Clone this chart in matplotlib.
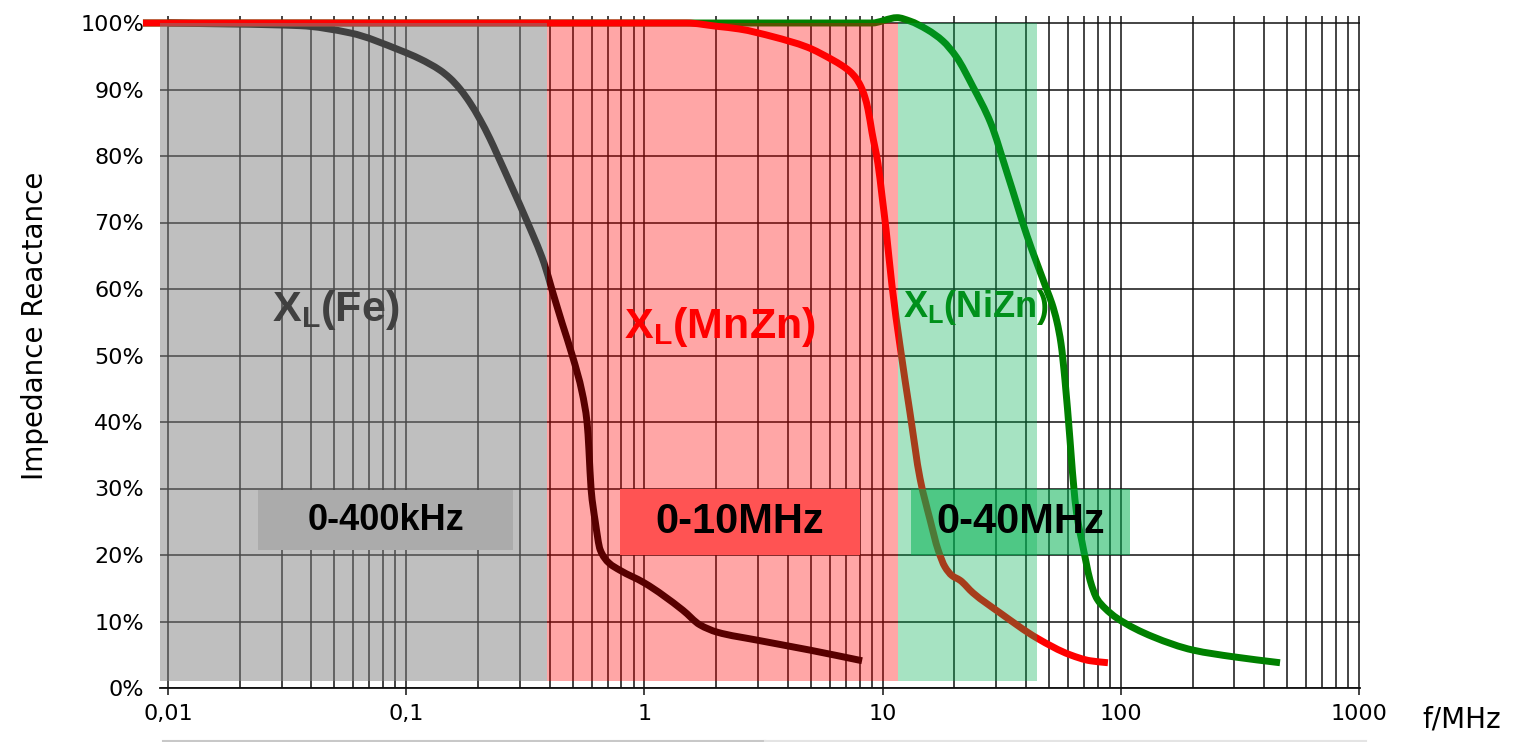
import matplotlib
matplotlib.use("Agg")
import matplotlib.pyplot as plt
from matplotlib.patches import Rectangle, PathPatch
from matplotlib.path import Path
from matplotlib.lines import Line2D
import numpy as np

# ---------------- data ----------------
# X_L(Fe) curve: frequency in MHz, relative reactance
fe_freq = [0.01, 0.0358, 0.0583, 0.0942, 0.1143, 0.1387, 0.1527, 0.168, 0.1853, 0.204,
           0.2247, 0.2405, 0.278, 0.3214, 0.379, 0.41, 0.452, 0.50, 0.548, 0.575,
           0.585, 0.597, 0.622, 0.652, 0.71, 0.79, 1.0, 1.45, 1.71, 2.02, 2.97,
           4.95, 8.2]
fe_val = [1.00, 0.996, 0.985, 0.959, 0.946, 0.929, 0.917, 0.901, 0.880, 0.855,
          0.826, 0.803, 0.753, 0.702, 0.639, 0.598, 0.548, 0.498, 0.444, 0.398,
          0.358, 0.300, 0.250, 0.208, 0.188, 0.177, 0.158, 0.117, 0.095, 0.084,
          0.072, 0.057, 0.041]

# X_L(MnZn) curve
mnzn_freq = [0.00785, 1.5, 2.02, 2.5, 3.5, 4.8, 6.2, 6.753, 7.297, 7.732, 8.115,
             8.436, 8.686, 9.03, 9.565, 9.943, 10.335, 10.95, 11.83, 13.03, 14.36,
             15.82, 17.09, 18.28, 19.56, 21.14, 23.96, 31.1, 44.5, 61.2, 74.3, 88.3]
mnzn_val = [1.00, 1.00, 0.995, 0.991, 0.979, 0.964, 0.944, 0.936, 0.927, 0.917,
            0.904, 0.888, 0.870, 0.835, 0.788, 0.740, 0.690, 0.605, 0.515, 0.414,
            0.315, 0.253, 0.208, 0.182, 0.169, 0.162, 0.143, 0.113, 0.075, 0.050,
            0.041, 0.038]

# X_L(NiZn) curve
nizn_freq = [0.00785, 9.0, 11.5, 13.0, 15.4, 17.9, 20.4, 23.96, 28.4, 33.28, 40.39,
             49.0, 51.4, 54.0, 56.1, 58.3, 61.2, 64.2, 66.1, 68.7, 71.4, 74.3, 79.5,
             85.8, 96.4, 136.5, 201.0, 296.0, 466.0]
nizn_val = [1.00, 1.00, 1.008, 1.003, 0.990, 0.973, 0.949, 0.904, 0.850, 0.775, 0.680,
            0.598, 0.578, 0.550, 0.518, 0.463, 0.373, 0.283, 0.250, 0.220, 0.190,
            0.162, 0.134, 0.120, 0.105, 0.077, 0.057, 0.047, 0.038]

# frequency bands (MHz)
band_start = [None, 0.39, 11.57]   # None = left edge of plot
band_end = [0.39, 11.57, 44.4]
band_low, band_high = 0.01, 1.00

# range boxes
box_labels = ["0-400kHz", "0-10MHz", "0-40MHz"]
box_x0 = [0.0239, 0.790, 13.15]
box_x1 = [0.281, 8.04, 109.3]
box_y0 = [0.207, 0.20, 0.20]
box_y1 = [0.298, 0.30, 0.30]

# curve labels
curve_labels = [r"$\mathbf{X_L(Fe)}$", r"$\mathbf{X_L(MnZn)}$", r"$\mathbf{X_L(NiZn)}$"]
curve_label_x = [0.0273, 0.821, 12.18]
curve_label_y = [0.568, 0.543, 0.572]

x_ticks = [0.01, 0.1, 1, 10, 100, 1000]
x_tick_labels = ["0,01", "0,1", "1", "10", "100", "1000"]
y_ticks = [i / 10 for i in range(11)]
y_tick_labels = [f"{i * 10}%" for i in range(11)]


def smooth_path(freq, val):
    """Shape-preserving cubic (PCHIP) through the points, in log-frequency,
    expressed as Bezier segments so that the line is drawn smooth."""
    u = np.log10(np.asarray(freq, float))
    y = np.asarray(val, float)
    h = np.diff(u)
    delta = np.diff(y) / h
    n = len(u)
    d = np.zeros(n)
    d[0], d[-1] = delta[0], delta[-1]
    for k in range(1, n - 1):
        if delta[k - 1] * delta[k] <= 0:
            d[k] = 0.0
        else:
            w1 = 2 * h[k] + h[k - 1]
            w2 = h[k] + 2 * h[k - 1]
            d[k] = (w1 + w2) / (w1 / delta[k - 1] + w2 / delta[k])
    verts = [(u[0], y[0])]
    codes = [Path.MOVETO]
    for k in range(n - 1):
        verts += [(u[k] + h[k] / 3, y[k] + d[k] * h[k] / 3),
                  (u[k + 1] - h[k] / 3, y[k + 1] - d[k + 1] * h[k] / 3),
                  (u[k + 1], y[k + 1])]
        codes += [Path.CURVE4] * 3
    verts = np.array(verts)
    verts[:, 0] = 10 ** verts[:, 0]
    return Path(verts, codes)


# ---------------- style ----------------
plt.rcParams["font.family"] = ["DejaVu Sans"]
plt.rcParams["mathtext.fontset"] = "custom"
plt.rcParams["mathtext.bf"] = "Liberation Sans:bold"
plt.rcParams["mathtext.rm"] = "Liberation Sans"
plt.rcParams["mathtext.it"] = "Liberation Sans:italic"

W, H = 1520, 742
fig = plt.figure(figsize=(W / 100, H / 100), dpi=100)

dec = 238.2
x_lo = 10 ** (-2 - 8 / dec)
x_hi = 10 ** 3.004
left_px = 160
right_px = 1359 + 0.004 * dec
y_top = 1.01
ax = fig.add_axes([left_px / W, 54 / H, (right_px - left_px) / W, 665 * y_top / H])
ax.set_xscale("log")
ax.set_xlim(x_lo, x_hi)
ax.set_ylim(0, y_top)

grid_col = "#111111"
ax.set_xticks(x_ticks)
ax.set_xticklabels(x_tick_labels, fontsize=16)
ax.xaxis.set_minor_locator(matplotlib.ticker.LogLocator(base=10, subs=np.arange(2, 10)))
ax.xaxis.set_minor_formatter(matplotlib.ticker.NullFormatter())
ax.set_yticks(y_ticks)
ax.set_yticklabels(y_tick_labels, fontsize=16)
ax.tick_params(axis="x", which="major", length=5, width=1.1, color=grid_col, pad=6.5)
ax.tick_params(axis="x", which="minor", length=0)
ax.tick_params(axis="y", length=0, pad=11.5)
ax.grid(True, which="both", axis="x", color=grid_col, lw=1.1, zorder=0.5)
ax.grid(True, which="major", axis="y", color=grid_col, lw=1.1, zorder=0.5)
ax.set_axisbelow(True)
for s in ["top", "right", "left"]:
    ax.spines[s].set_visible(False)
ax.spines["bottom"].set_color(grid_col)
ax.spines["bottom"].set_linewidth(1.3)

# curve labels (below the translucent bands)
label_cols = ["black", "#FF0000", "#008000"]
label_sizes = [31, 31, 26]
for txt, lx, ly, c, fs in zip(curve_labels, curve_label_x, curve_label_y, label_cols, label_sizes):
    ax.text(lx, ly, txt, color=c, fontsize=fs, ha="left", va="center", zorder=1.5)

# curves (smooth)
for fr, vv, col, zo in [(fe_freq, fe_val, "black", 2.0),
                        (nizn_freq, nizn_val, "#008000", 2.1),
                        (mnzn_freq, mnzn_val, "#FF0000", 2.2)]:
    ax.add_patch(PathPatch(smooth_path(fr, vv), fill=False, edgecolor=col, lw=5,
                           capstyle="butt", joinstyle="round", zorder=zo, clip_on=False))

# translucent frequency bands
band_cols = [((128 / 255,) * 3, 0.5), ((1.0, 0.0, 0.0), 0.35), ((0.0, 176 / 255, 80 / 255), 0.35)]
for xs, xe, (c, a) in zip(band_start, band_end, band_cols):
    xs = x_lo if xs is None else xs
    ax.add_patch(Rectangle((xs, band_low), xe - xs, band_high - band_low,
                           facecolor=c, alpha=a, edgecolor="none", zorder=3))

# range boxes
box_cols = [("#ABABAB", 1.0), ("#FF5353", 1.0), ((0.0, 176 / 255, 80 / 255), 0.53)]
box_fs = [26, 30, 30]
for lab, x0, x1, y0, y1, (c, a), fs in zip(box_labels, box_x0, box_x1, box_y0, box_y1, box_cols, box_fs):
    ax.add_patch(Rectangle((x0, y0), x1 - x0, y1 - y0, facecolor=c, alpha=a,
                           edgecolor="none", zorder=4))
    xc = 10 ** ((np.log10(x0) + np.log10(x1)) / 2)
    ax.text(xc, (y0 + y1) / 2, lab, fontsize=fs, fontweight="bold", family="Liberation Sans",
            color="black", ha="center", va="center", zorder=5)

# axis titles
fig.text(35 / W, 1 - 326 / H, "Impedance Reactance", rotation=90, fontsize=20,
         ha="center", va="center")
fig.text(1422 / W, 1 - 727 / H, "f/MHz", fontsize=20, ha="left", va="baseline")

# faint bars along the bottom edge
fig.add_artist(Line2D([163 / W, 765 / W], [1 - 740.8 / H] * 2, color="#C8C8C8", lw=1.5))
fig.add_artist(Line2D([765 / W, 1366 / W], [1 - 740.8 / H] * 2, color="#E4E4E4", lw=1.5))

fig.savefig("out.png", dpi=100)
